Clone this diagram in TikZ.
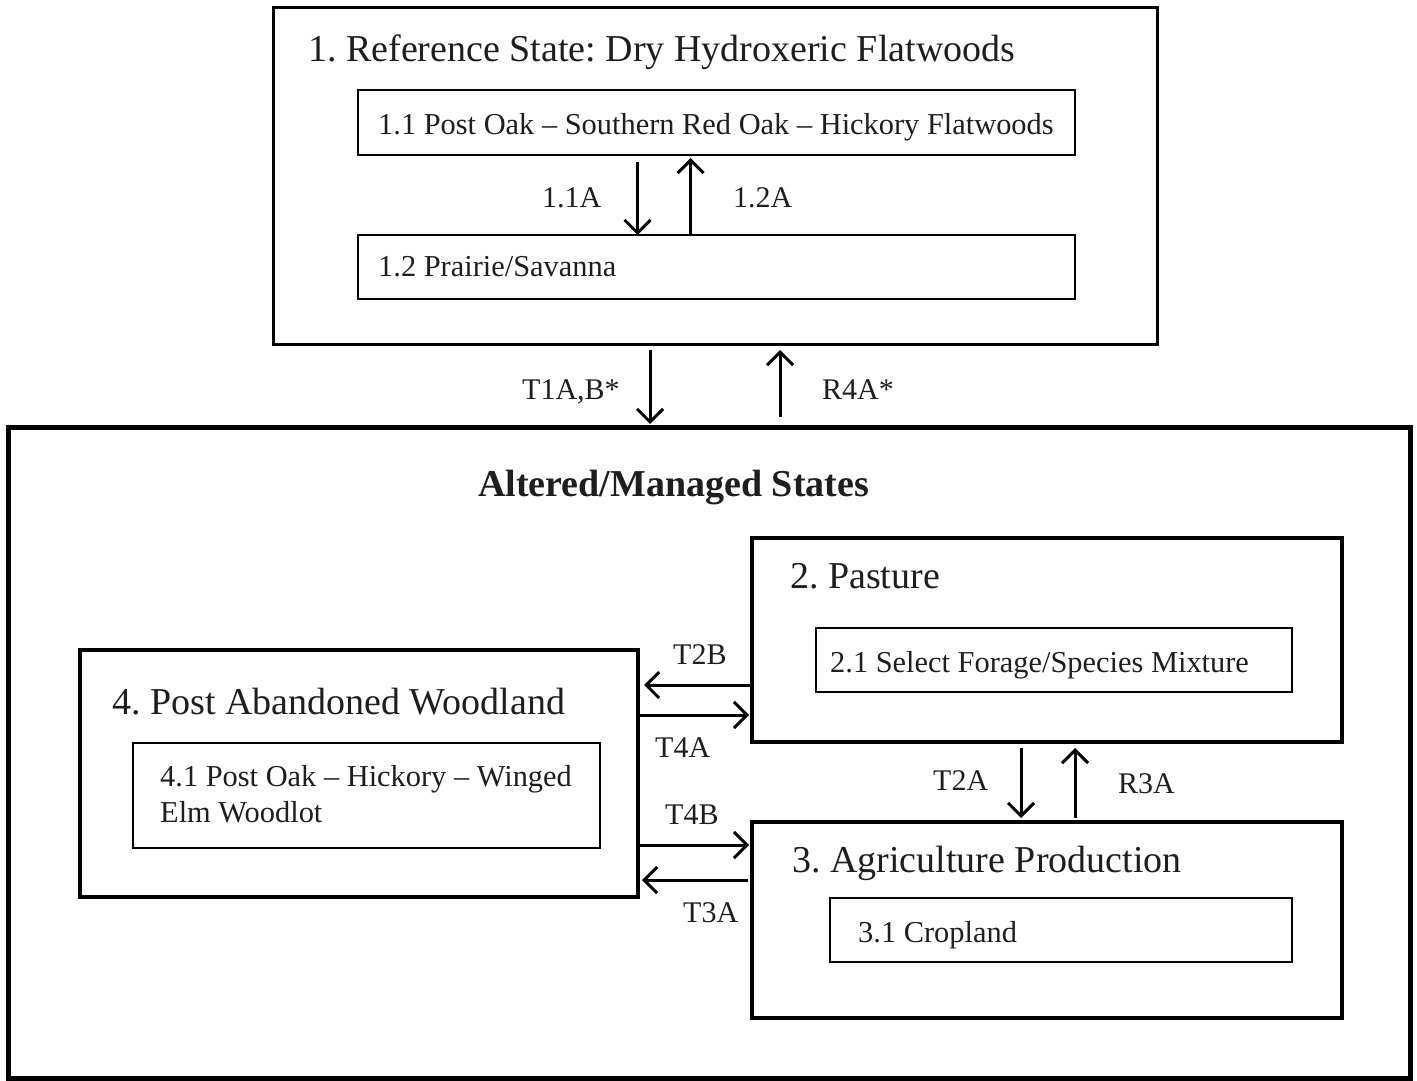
\documentclass[tikz,border=0pt]{standalone}
\usepackage{fontspec}
\setmainfont{Liberation Serif}
\usetikzlibrary{arrows.meta}
\definecolor{ink}{RGB}{30,30,30}
\frenchspacing
\tikzset{
  ttl/.style={font=\fontsize{38}{44}\selectfont, text=ink, inner sep=0pt, anchor=base west},
  txt/.style={font=\fontsize{30.4}{36}\selectfont, text=ink, inner sep=0pt, anchor=base west},
  lbl/.style={font=\fontsize{30}{36}\selectfont, text=ink, inner sep=0pt, anchor=base west},
  stbox/.style={draw, line width=#1, inner sep=0pt, outer sep=0pt, anchor=north west},
  arr/.style={line width=3pt, -{Straight Barb[length=13pt,width=26pt]}},
}
\begin{document}
\begin{tikzpicture}[x=1pt,y=-1pt]
\useasboundingbox (0,0) rectangle (1417,1081);
% boxes
\node[stbox=3pt, minimum width=884pt, minimum height=336pt] (b1) at (273,8) {};
\node[stbox=2.5pt, minimum width=717pt, minimum height=65pt] (b11) at (358,90) {};
\node[stbox=2.5pt, minimum width=717pt, minimum height=64pt] (b12) at (358,235) {};
\node[stbox=5pt, minimum width=1402pt, minimum height=651pt] (big) at (8,427) {};
\node[stbox=3.5pt, minimum width=590pt, minimum height=204pt] (b2) at (752,538) {};
\node[stbox=2.5pt, minimum width=476pt, minimum height=64pt] (b21) at (816,628) {};
\node[stbox=3.5pt, minimum width=558pt, minimum height=247pt] (b4) at (80,650) {};
\node[stbox=2.5pt, minimum width=467pt, minimum height=105pt] (b41) at (133,743) {};
\node[stbox=3.5pt, minimum width=590pt, minimum height=196pt] (b3) at (752,822) {};
\node[stbox=2.5pt, minimum width=462pt, minimum height=64pt] (b31) at (830,898) {};
% texts
\node[ttl] (t1) at (308,62) {1. Reference State: Dry Hydroxeric Flatwoods};
\node[txt] (t11) at (378,134) {1.1 Post Oak -- Southern Red Oak -- Hickory Flatwoods};
\node[txt] (t12) at (378,276) {1.2 Prairie/Savanna};
\node[ttl, font=\fontsize{38}{44}\selectfont\bfseries] (talt) at (478,496) {Altered/Managed States};
\node[ttl] (t2) at (790,588) {2. Pasture};
\node[txt] (t21) at (830,672) {2.1 Select Forage/Species Mixture};
\node[ttl] (t4) at (112,714) {4. Post Abandoned Woodland};
\node[txt] (t41a) at (160,786) {4.1 Post Oak -- Hickory -- Winged};
\node[txt] (t41b) at (160,822) {Elm Woodlot};
\node[ttl] (t3) at (792,872) {3. Agriculture Production};
\node[txt] (t31) at (858,942) {3.1 Cropland};
% arrows
\draw[arr] ([xshift=-79pt,yshift=-7pt]b11.south) -- ([xshift=-79pt]b12.north);
\draw[arr] ([xshift=-26pt]b12.north) -- ([xshift=-26pt,yshift=-3pt]b11.south);
\draw[arr] ([xshift=-65pt,yshift=-6pt]b1.south) -- ([xshift=-65pt,yshift=3pt]b1.south |- big.north);
\draw[arr] ([xshift=65pt,yshift=10pt]b1.south |- big.north) -- ([xshift=65pt,yshift=-6pt]b1.south);
\draw[arr] ([yshift=-45pt]b2.west) -- ([yshift=-45pt,xshift=6pt]b2.west -| b4.east);
\draw[arr] ([yshift=-75pt]b2.west -| b4.east) -- ([yshift=-75pt,xshift=-3pt]b2.west);
\draw[arr] ([yshift=75pt]b3.west -| b4.east) -- ([yshift=75pt,xshift=-3pt]b3.west);
\draw[arr] ([yshift=40pt,xshift=-4pt]b3.west) -- ([yshift=40pt,xshift=4pt]b3.west -| b4.east);
\draw[arr] ([xshift=-26pt,yshift=-6pt]b2.south) -- ([xshift=-26pt,yshift=4pt]b2.south |- b3.north);
\draw[arr] ([xshift=28pt,yshift=4pt]b2.south |- b3.north) -- ([xshift=28pt,yshift=-6pt]b2.south);
% labels
\node[lbl] (l11a) at (542,207) {1.1A};
\node[lbl] (l12a) at (733,207) {1.2A};
\node[lbl] (lt1) at (522,399) {T1A,B*};
\node[lbl] (lr4) at (822,399) {R4A*};
\node[lbl] (lt2b) at (673,664) {T2B};
\node[lbl] (lt4a) at (655,757) {T4A};
\node[lbl] (lt4b) at (665,824) {T4B};
\node[lbl] (lt3a) at (683,922) {T3A};
\node[lbl] (lt2a) at (933,790) {T2A};
\node[lbl] (lr3a) at (1118,793) {R3A};
\end{tikzpicture}
\end{document}
